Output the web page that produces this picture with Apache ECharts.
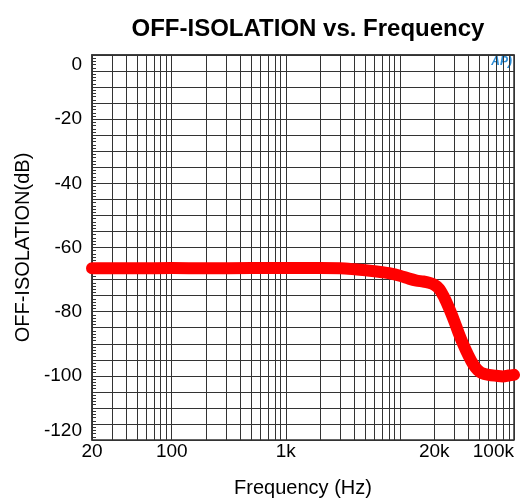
<!DOCTYPE html>
<html>
<head>
<meta charset="utf-8">
<script src="https://cdn.jsdelivr.net/npm/echarts@6/dist/echarts.min.js"></script>
<style>html,body{margin:0;padding:0;background:#fff;}#c{width:528px;height:503px;}</style>
</head>
<body>
<div id="c"></div>
<script>
const freqHz = [20, 50, 100, 200, 500, 1000, 2000, 3000, 4000, 5000, 6000, 7000, 8000, 10000, 12000, 14000, 16000, 18000, 20000, 22000, 24000, 26000, 28000, 30000, 33000, 36000, 40000, 44000, 48000, 52000, 60000, 70000, 80000, 90000, 100000];
const isolationDb = [-66.5, -66.5, -66.4, -66.5, -66.4, -66.4, -66.4, -66.5, -66.8, -67.1, -67.4, -67.7, -68.0, -68.8, -69.7, -70.3, -70.6, -71.0, -71.6, -72.8, -75.0, -77.6, -80.3, -83.0, -87.0, -90.3, -93.8, -96.5, -98.2, -99.1, -99.7, -100.0, -100.2, -99.9, -99.7];
const xGridValues = [20, 30, 40, 50, 60, 70, 80, 90, 100, 200, 300, 400, 500, 600, 700, 800, 900, 1000, 2000, 3000, 4000, 5000, 6000, 7000, 8000, 9000, 10000, 20000, 30000, 40000, 50000, 60000, 70000, 80000, 90000, 100000];
const xLabelValues = [20, 100, 1000, 20000, 100000];
const yLabelStep = 20;
const titleText = 'OFF-ISOLATION vs. Frequency';
const xName = 'Frequency (Hz)';
const yName = 'OFF-ISOLATION(dB)';

const FONT = '"Liberation Sans", Arial, sans-serif';
const chart = echarts.init(document.getElementById('c'), null, {renderer: 'canvas'});
chart.setOption({
  animation: false,
  backgroundColor: '#fff',
  title: {
    text: titleText, left: 303, top: 12, textAlign: 'center',
    textStyle: {fontFamily: FONT, fontSize: 24, fontWeight: 'bold', color: '#000'}
  },
  graphic: [{
    type: 'text', right: 16, top: 56,
    style: {text: 'AP)', fill: '#2a8bd4', font: 'italic bold 12px ' + FONT}
  }],
  grid: {left: 92, right: 14, top: 55, bottom: 63, show: true, borderColor: '#333', borderWidth: 1.5, backgroundColor: 'transparent'},
  xAxis: {
    type: 'log', logBase: 10, min: 20, max: 100000,
    name: xName, nameLocation: 'middle', nameGap: 38,
    nameTextStyle: {fontFamily: FONT, fontSize: 20, color: '#000'},
    axisLine: {show: true, lineStyle: {color: '#333', width: 1.5}},
    axisTick: {show: false, customValues: xGridValues},
    minorTick: {show: false},
    splitLine: {show: true, customValues: xGridValues, lineStyle: {color: '#333', width: 1}},
    axisLabel: {
      customValues: xLabelValues, margin: 2, alignMaxLabel: 'right',
      fontFamily: FONT, fontSize: 19, color: '#000',
      formatter: v => v >= 1000 ? (v / 1000) + 'k' : String(v)
    }
  },
  yAxis: {
    type: 'value', min: -120, max: 0, interval: 5,
    name: yName, nameLocation: 'middle', nameGap: 59, nameRotate: 90,
    nameTextStyle: {fontFamily: FONT, fontSize: 20, color: '#000'},
    axisLine: {show: true, lineStyle: {color: '#333', width: 1.5}},
    axisTick: {show: true, inside: true, length: 6, lineStyle: {color: '#333'}},
    minorTick: {show: true, splitNumber: 5, length: 4, lineStyle: {color: '#333'}},
    splitLine: {show: true, lineStyle: {color: '#333', width: 1}},
    axisLabel: {
      margin: 10, fontFamily: FONT, fontSize: 19, color: '#000',
      showMinLabel: true, showMaxLabel: true, hideOverlap: false,
      verticalAlignMaxLabel: 'top', verticalAlignMinLabel: 'bottom',
      formatter: v => (Math.round(v) % yLabelStep === 0) ? String(Math.round(v)) : ''
    }
  },
  series: [{
    type: 'line', clip: false, symbol: 'none', smooth: 0.3,
    data: freqHz.map((f, i) => [f, isolationDb[i]]),
    lineStyle: {color: '#ff0000', width: 12, cap: 'round', join: 'round'}
  }]
});
</script>
</body>
</html>
